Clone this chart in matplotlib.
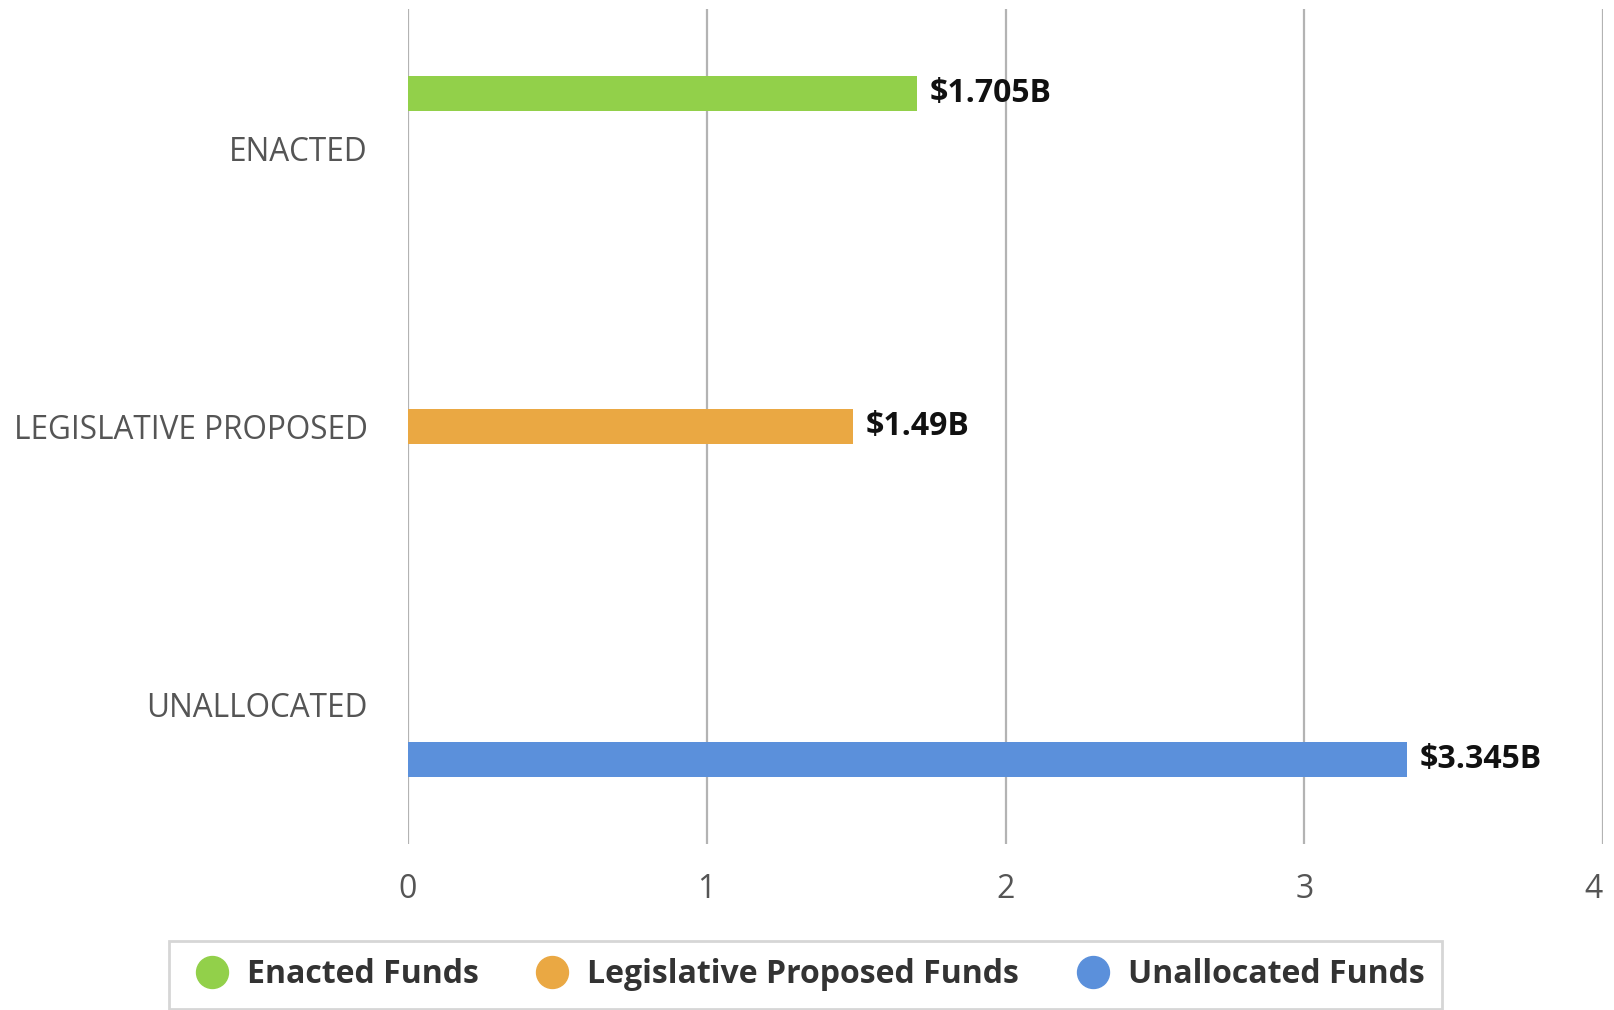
import matplotlib
matplotlib.use("Agg")
import matplotlib.pyplot as plt
from matplotlib.lines import Line2D
import numpy as np

categories = ["ENACTED", "LEGISLATIVE PROPOSED", "UNALLOCATED"]
series_names = ["Enacted Funds", "Legislative Proposed Funds", "Unallocated Funds"]
enacted = [1.705, np.nan, np.nan]
proposed = [np.nan, 1.49, np.nan]
unallocated = [np.nan, np.nan, 3.345]
value_labels = ["$1.705B", "$1.49B", "$3.345B"]
x_ticks = [0, 1, 2, 3, 4]
colors = ["#92D04A", "#EAA843", "#5B90DB"]

plt.rcParams["font.family"] = ["Open Sans", "DejaVu Sans"]

fig = plt.figure(figsize=(16.14, 10.10), dpi=100)
ax = fig.add_axes([0.2528, 0.1644, 0.7404, 0.8266])

y = np.arange(len(categories))
slot = 0.196
height = 0.124
all_series = [enacted, proposed, unallocated]
for i, (vals, col) in enumerate(zip(all_series, colors)):
    pos = y + (i - 1) * slot
    ax.barh(pos, vals, height=height, color=col, zorder=3)
    for p, v in zip(pos, vals):
        if not np.isnan(v):
            ax.annotate(value_labels[i], xy=(v, p), xytext=(9, 0),
                        textcoords="offset points", va="center", ha="left",
                        fontsize=23, fontweight="bold", color="#111111")

ax.set_ylim(len(categories) - 0.5, -0.5)
ax.set_xlim(0, 4)
ax.set_xticks(x_ticks)
ax.set_xticklabels([str(t) for t in x_ticks])
ax.set_yticks(y)
ax.set_yticklabels(categories)
for s in ax.spines.values():
    s.set_visible(False)
ax.grid(axis="x", color="#b3b3b3", linewidth=1.6, zorder=0)
ax.grid(axis="y", visible=False)
ax.tick_params(axis="x", length=0, pad=21, labelsize=23, labelcolor="#555555")
ax.tick_params(axis="y", length=0, pad=29, labelsize=22.7, labelcolor="#555555")
ax.get_xticklabels()[-1].set_horizontalalignment("right")

handles = [Line2D([0], [0], marker="o", linestyle="none", markersize=23,
                  markerfacecolor=c, markeredgecolor=c) for c in colors]
leg = fig.legend(handles, series_names, loc="center", ncol=3,
                 bbox_to_anchor=(0.499, 0.0347), frameon=True, fancybox=False,
                 prop={"size": 23, "weight": "bold"}, handletextpad=0.3,
                 columnspacing=1.5, borderpad=0.55, handlelength=1.6)
leg.get_frame().set_edgecolor("#cccccc")
leg.get_frame().set_linewidth(2)
for t in leg.get_texts():
    t.set_color("#333333")

fig.savefig("out.png", dpi=100)
